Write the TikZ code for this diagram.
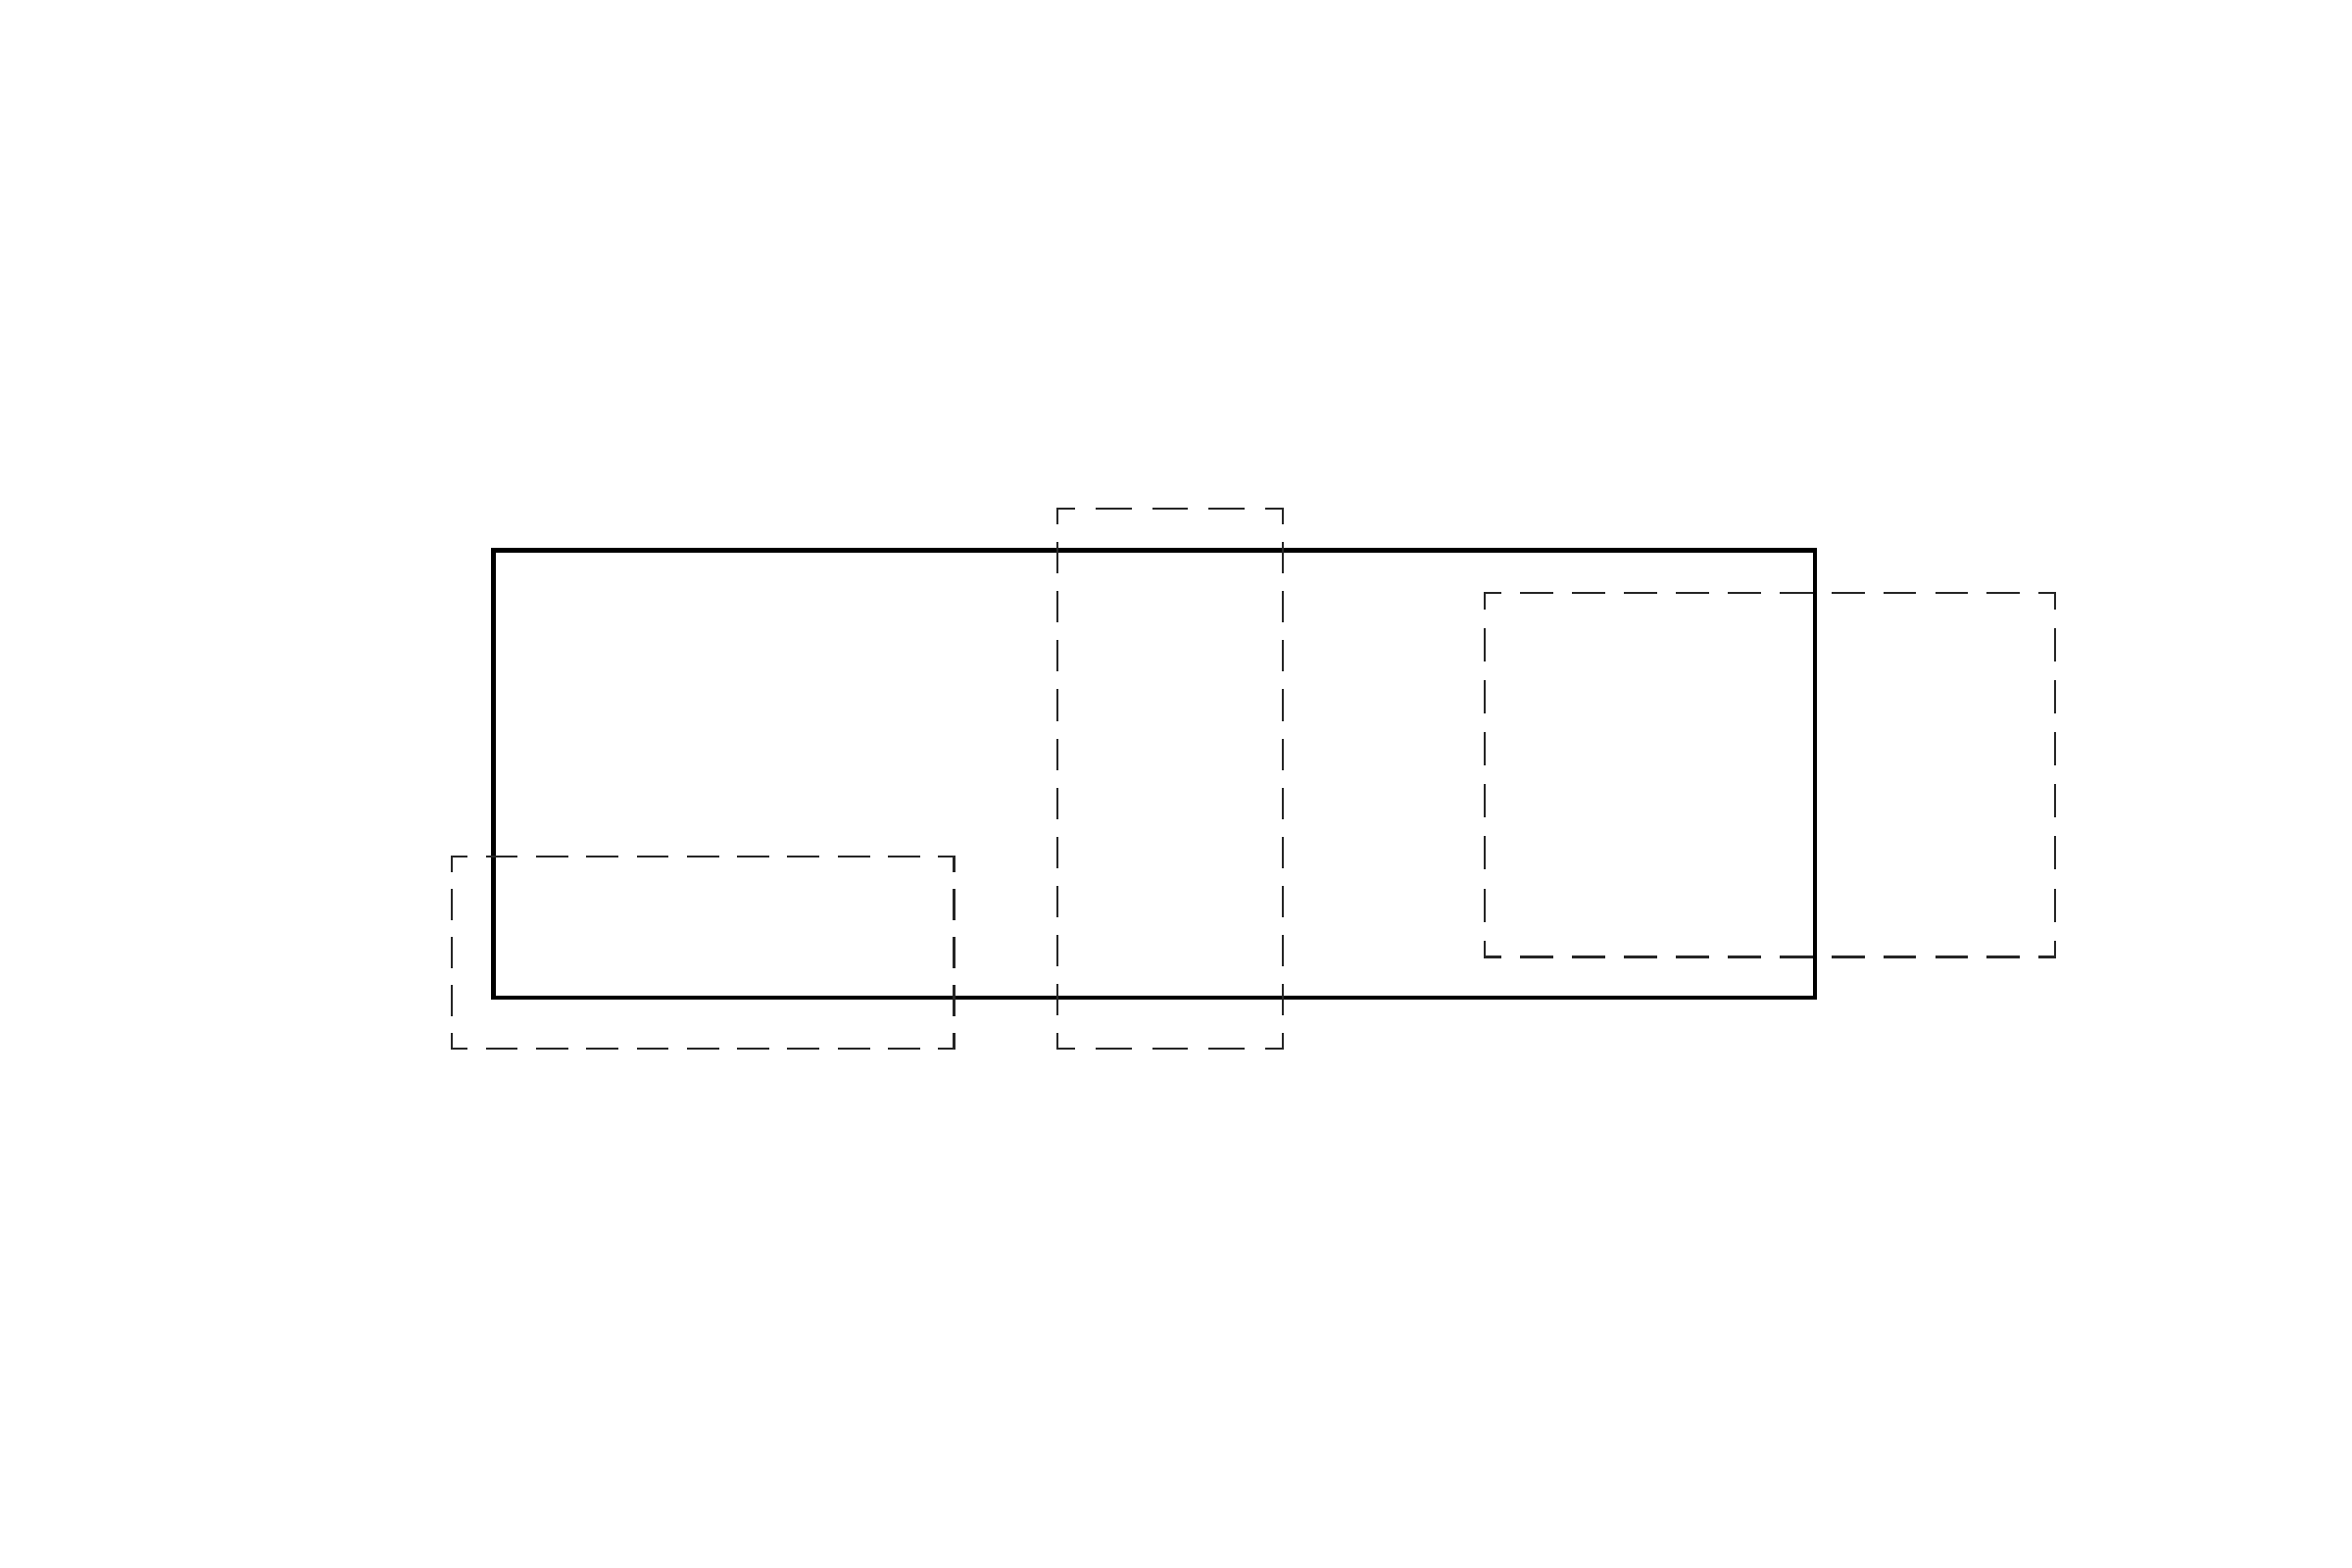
\documentclass[tikz,border=0pt]{standalone}
\newcommand\dashside[5]{%
  \pgfmathsetmacro\dlen{veclen(#3-#1,#4-#2)*0.284528/#5}%
  \pgfmathsetmacro\don{0.6*\dlen}%
  \pgfmathsetmacro\doff{0.4*\dlen}%
  \pgfmathsetmacro\dph{0.3*\dlen}%
  \draw[dashline,dash pattern=on \don pt off \doff pt,dash phase=\dph pt] (#1,#2) -- (#3,#4);}
\newcommand\dashrect[6]{% x1 y1 x2 y2 nh nv
  \dashside{#1}{#2}{#3}{#2}{#5}%
  \dashside{#1}{#4}{#3}{#4}{#5}%
  \dashside{#1}{#2}{#1}{#4}{#6}%
  \dashside{#3}{#2}{#3}{#4}{#6}}
\begin{document}
\begin{tikzpicture}[x=0.01cm,y=-0.01cm,
  mainbox/.style={draw=black,line width=1.3pt},
  dashline/.style={draw=black!85,line width=0.6pt,line cap=rect}]
\useasboundingbox[fill=white] (0,0) rectangle (2400,1600);
\draw[mainbox] (503.5,561.7) rectangle (1852,1018);
\dashrect{460.7}{874}{973.5}{1070}{10}{4}
\dashrect{1079}{519}{1308.7}{1070}{4}{11}
\dashrect{1515}{604.6}{2097}{976.5}{11}{7}
\end{tikzpicture}
\end{document}
